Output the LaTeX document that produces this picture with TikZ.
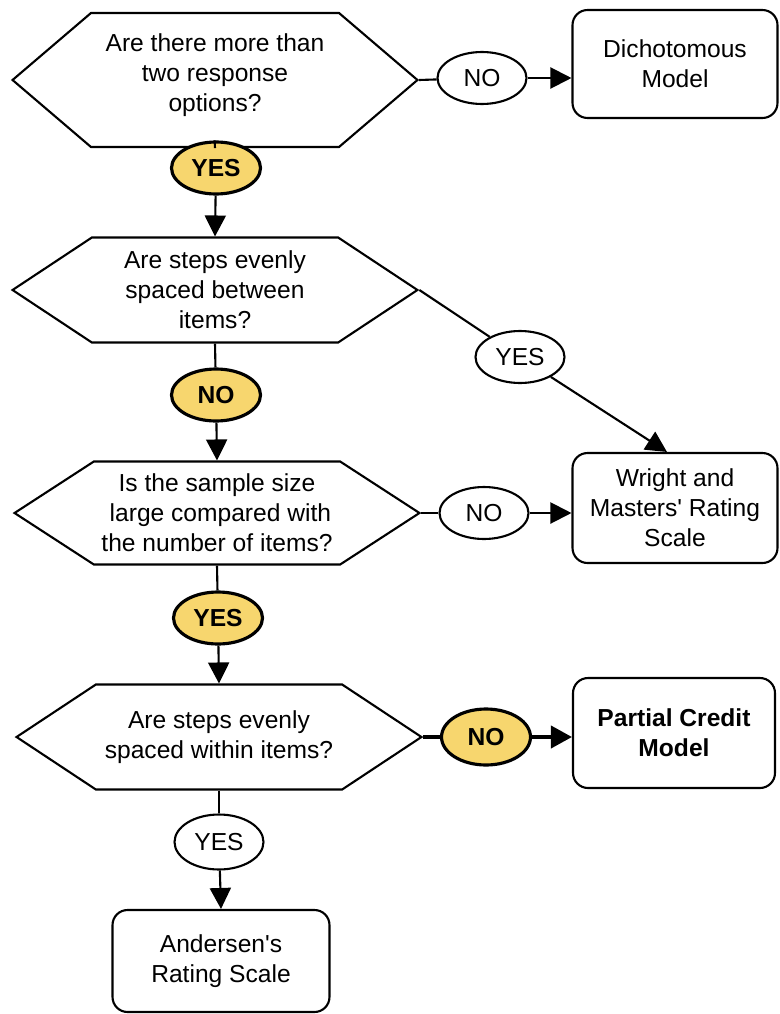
\documentclass[tikz,border=0pt]{standalone}
\usepackage{fontspec}
\setmainfont{Liberation Sans}
\usepackage{tikz}
\usetikzlibrary{arrows.meta,shapes.symbols,shapes.geometric,calc}

\definecolor{answeryellow}{RGB}{247,214,110}

\tikzset{
	flowtext/.style={font=\fontsize{14pt}{17pt}\selectfont},
	question/.style={flowtext, signal, signal to=east and west, draw, line width=1.2pt,
		align=center, minimum width=8.1cm, inner sep=0pt},
	answer/.style={flowtext, ellipse, draw, line width=1.2pt, fill=white,
		minimum width=1.78cm, minimum height=1.04cm, inner sep=0pt},
	hianswer/.style={answer, fill=answeryellow, line width=1.8pt, font=\fontsize{14pt}{17pt}\selectfont\bfseries},
	model/.style={flowtext, rectangle, rounded corners=0.3cm, draw, line width=1.2pt,
		align=center, minimum width=4.1cm, minimum height=2.16cm},
	flow/.style={line width=1.2pt},
	flowto/.style={flow, -{Triangle[length=0.42cm,width=0.42cm]}},
	thickflow/.style={line width=2.2pt},
	thickflowto/.style={thickflow, -{Triangle[length=0.42cm,width=0.44cm]}}
}

\begin{document}
\begin{tikzpicture}[x=0.02cm,y=-0.02cm]
	\useasboundingbox (0,0) rectangle (779,1014);

	% questions
	\node[question,minimum height=2.68cm,signal pointer angle=81] (q1) at (215,80) {Are there more than\\two response\\options?\\[-0.3cm]};
	\node[question,minimum height=2.1cm,signal pointer angle=67] (q2) at (215,290) {Are steps evenly\\spaced between\\items?};
	\node[question,minimum height=2.06cm,signal pointer angle=66] (q3) at (217,513) {Is the sample size\\\ large compared with\\the number of items?};
	\node[question,minimum height=2.1cm,signal pointer angle=67] (q4) at (219,737) {Are steps evenly\\spaced within items?};

	% models
	\node[model] (dich) at (675,64) {Dichotomous\\Model};
	\node[model,minimum height=2.2cm] (wright) at (675,508) {Wright and\\Masters\textquotesingle\ Rating\\Scale};
	\node[model,minimum width=4.04cm,minimum height=2.2cm,font=\fontsize{14pt}{17pt}\selectfont\bfseries] (partial) at (674,733) {Partial Credit\\Model};
	\node[model,minimum width=4.34cm,minimum height=2.04cm] (andersen) at (221,961) {Andersen\textquotesingle s\\Rating Scale};

	% answers
	\node[answer] (no1) at (482,78) {NO};
	\node[hianswer] (yes1) at (216,168) {YES};
	\node[hianswer] (no2) at (216,395) {NO};
	\node[answer] (yes2) at (520,357) {YES};
	\node[answer] (no3) at (484,513) {NO};
	\node[hianswer] (yes3) at (218,618) {YES};
	\node[hianswer,minimum height=1.12cm] (no4) at (486,737) {NO};
	\node[answer,minimum height=1.1cm] (yes4) at (219,842) {YES};

	% connectors
	\draw[flow] (q1.east) -- (no1);
	\draw[flowto] (no1) -- (no1 -| dich.west);
	\draw[flow] (q1.south) -- (yes1);
	\draw[flowto] (yes1) -- (q2.north);
	\draw[flow] (q2.south) -- (no2);
	\draw[flowto] (no2) -- (q3.north);
	\draw[flow] (q2.east) -- (yes2);
	\draw[flowto] (yes2) -- ($(wright.north)+(-8,0)$);
	\draw[flow] (q3.east) -- (no3);
	\draw[flowto] (no3) -- (no3 -| wright.west);
	\draw[flow] (q3.south) -- (yes3);
	\draw[flowto] (yes3) -- (q4.north);
	\draw[thickflow] (q4.east) -- (no4);
	\draw[thickflowto] (no4) -- (no4 -| partial.west);
	\draw[flow] (q4.south) -- (yes4);
	\draw[flowto] (yes4) -- (andersen.north);
\end{tikzpicture}
\end{document}
